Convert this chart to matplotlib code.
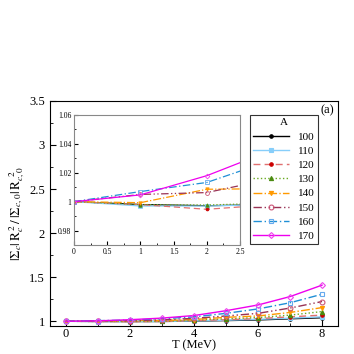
import numpy as np
import matplotlib
matplotlib.use("Agg")
import matplotlib.pyplot as plt
from matplotlib.ticker import MultipleLocator

plt.rcParams['font.family'] = ['Liberation Serif', 'DejaVu Serif']
plt.rcParams['mathtext.fontset'] = 'stix'

T = [0, 1, 2, 3, 4, 5, 6, 7, 8]
masses = ['100', '110', '120', '130', '140', '150', '160', '170']
r100 = [1.0, 0.998, 0.9972, 0.998, 1.002, 1.008, 1.015, 1.028, 1.04]
r110 = [1.0, 0.997, 0.997, 0.998, 1.004, 1.012, 1.022, 1.035, 1.05]
r120 = [1.0, 0.998, 0.9947, 0.998, 1.007, 1.018, 1.03, 1.05, 1.07]
r130 = [1.0, 0.998, 0.9977, 0.999, 1.012, 1.028, 1.042, 1.07, 1.11]
r140 = [1.0, 0.9993, 1.0086, 1.009, 1.02, 1.045, 1.06, 1.10, 1.155]
r150 = [1.0, 1.005, 1.0063, 1.016, 1.033, 1.06, 1.09, 1.15, 1.224]
r160 = [1.0, 1.007, 1.0133, 1.029, 1.05, 1.09, 1.14, 1.21, 1.307]
r170 = [1.0, 1.0047, 1.018, 1.036, 1.065, 1.12, 1.185, 1.28, 1.41]
series = [r100, r110, r120, r130, r140, r150, r160, r170]

styles = [
    dict(color='black', ls='-', marker='o', ms=2.5, mfc='black', mec='black'),
    dict(color='#87cefa', ls='-', marker='s', ms=3, mfc='#87cefa', mec='#87cefa'),
    dict(color='#e07070', ls=(0, (5, 3)), marker='o', ms=2.5, mfc='#cc0000', mec='#cc0000'),
    dict(color='#6aaa22', ls=':', marker='^', ms=3, mfc='#4a8a10', mec='#4a8a10'),
    dict(color='#ff9900', ls='-.', marker='v', ms=3, mfc='#ff9900', mec='#ff9900'),
    dict(color='#993355', ls=(0, (6, 2, 1, 2, 1, 2)), marker='o', ms=3.5, mfc='none', mec='#cc5577'),
    dict(color='#1f8fd6', ls=(0, (6, 2, 1, 2)), marker='s', ms=3.5, mfc='none', mec='#66aaee'),
    dict(color='#ee00ee', ls='-', marker='D', ms=3, mfc='none', mec='#ee44ee'),
]

fig = plt.figure(figsize=(3.54, 3.54), dpi=100)
ax = fig.add_axes([0.141, 0.08, 0.814, 0.635])
lines = []
for m, y, st in zip(masses, series, styles):
    ln, = ax.plot(T, y, lw=1.0, mew=0.8, label=m, **st)
    lines.append(ln)
ax.set_xlim(-0.5, 8.5)
ax.set_ylim(0.95, 3.5)
ax.xaxis.set_major_locator(MultipleLocator(2))
ax.xaxis.set_minor_locator(MultipleLocator(1))
ax.yaxis.set_major_locator(MultipleLocator(0.5))
ax.yaxis.set_minor_locator(MultipleLocator(0.25))
ax.tick_params(which='both', direction='in', labelsize=9, top=False, right=False)
ax.tick_params(which='major', length=4)
ax.tick_params(which='minor', length=2)
ax.tick_params(axis='x', pad=2)
ax.set_yticks([1, 1.5, 2, 2.5, 3, 3.5])
ax.set_yticklabels(['1', '1.5', '2', '2.5', '3', '3.5'])
ax.set_xlabel('T (MeV)', fontsize=9, labelpad=-1)
ax.set_ylabel(r'$|\Sigma_c|\,\mathrm{R}_c^{\;2}\,/\,|\Sigma_{c,0}|\,\mathrm{R}_{c,0}^{\;\;2}$',
              fontsize=9.5, labelpad=2)
ax.text(0.985, 0.985, '(a)', transform=ax.transAxes, ha='right', va='top', fontsize=9)

ins = fig.add_axes([0.209, 0.308, 0.469, 0.367])
for y, st in zip(series, styles):
    ins.plot(T, y, lw=0.9, mew=0.6, **dict(st, ms=st['ms'] * 0.8))
ins.set_xlim(0, 2.5)
ins.set_ylim(0.97, 1.06)
ins.set_xticks([0, 0.5, 1, 1.5, 2, 2.5])
ins.set_xticklabels(['0', '0.5', '1', '1.5', '2', '2.5'])
ins.xaxis.set_minor_locator(MultipleLocator(0.25))
ins.set_yticks([0.98, 1, 1.02, 1.04, 1.06])
ins.set_yticklabels(['0.98', '1', '1.02', '1.04', '1.06'])
ins.yaxis.set_minor_locator(MultipleLocator(0.01))
ins.tick_params(which='both', direction='in', labelsize=5.5, pad=2)
ins.tick_params(which='major', length=3)
ins.tick_params(which='minor', length=1.5)
for sp in ins.spines.values():
    sp.set_color('#888888')

leg = fig.legend(lines, masses, title='A', loc='upper left',
                 bbox_to_anchor=(250 / 354, 1 - 115 / 354), borderaxespad=0,
                 fontsize=8, title_fontsize=8, frameon=True, fancybox=False,
                 edgecolor='black', handlelength=3.2, borderpad=0.3,
                 labelspacing=0.4, handletextpad=0.8)
leg.get_frame().set_linewidth(0.8)

fig.savefig('out.png', dpi=100)
